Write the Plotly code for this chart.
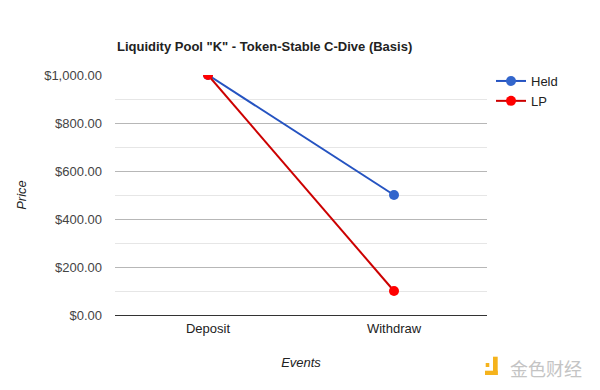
import plotly.graph_objects as go

categories = ["Deposit", "Withdraw"]
held = [1000, 500]
lp = [1000, 100]
y_ticks = [0, 200, 400, 600, 800, 1000]
y_tick_labels = ["$0.00", "$200.00", "$400.00", "$600.00", "$800.00", "$1,000.00"]

FONT = "Liberation Sans, Arial, sans-serif"

# page has an 8px body margin; layout positions are given in figure pixels
W, H = 600, 390
L, R, T, B = 107, 121, 67, 83
PW, PH = W - L - R, H - T - B


def px(x):
    return (x - L) / PW


def py(y):
    return (H - B - y) / PH


fig = go.Figure()
fig.add_trace(go.Scatter(
    x=categories, y=held, name="Held", mode="lines+markers",
    line=dict(color="#2553c1", width=2),
    marker=dict(color="#3366cc", size=10),
))
fig.add_trace(go.Scatter(
    x=categories, y=lp, name="LP", mode="lines+markers",
    line=dict(color="#cc0000", width=2),
    marker=dict(color="#ff0000", size=10),
))

fig.update_layout(
    width=W, height=H,
    margin=dict(l=L, r=R, t=T, b=B, autoexpand=False),
    paper_bgcolor="white", plot_bgcolor="white",
    font=dict(family=FONT, size=13, color="#222"),
    title=dict(text="<b>Liquidity Pool \"K\" - Token-Stable C-Dive (Basis)</b>",
               x=109 / W, xanchor="left", y=1 - 38 / H, yanchor="middle",
               font=dict(size=13, color="#222")),
    showlegend=True,
    legend=dict(x=px(483), y=py(58), xanchor="left", yanchor="top",
                font=dict(size=13, color="#222"), tracegroupgap=2,
                itemwidth=30, bgcolor="rgba(0,0,0,0)"),
    xaxis=dict(type="category", range=[-0.5, 1.5], showgrid=False,
               showline=False, zeroline=False, ticks="",
               ticklabelstandoff=4,
               tickfont=dict(size=13, color="#222"),
               title=dict(text="<i>Events</i>", standoff=22,
                          font=dict(size=13, color="#222"))),
    yaxis=dict(range=[0, 1000], tickvals=y_ticks, ticktext=y_tick_labels,
               showgrid=True, gridcolor="#b7b7b7", gridwidth=1,
               zeroline=True, zerolinecolor="#333", zerolinewidth=1,
               showline=False, ticks="", ticklen=0, ticklabelstandoff=12,
               tickfont=dict(size=13, color="#444"),
               minor=dict(dtick=100, showgrid=True, gridcolor="#e6e6e6", gridwidth=1),
               title=dict(text="<i>Price</i>", standoff=14,
                          font=dict(size=13, color="#222"))),
)

# watermark
fig.add_annotation(
    text="金色财经", xref="paper", yref="paper", x=px(500), y=py(360),
    xanchor="left", yanchor="middle", showarrow=False,
    font=dict(family="Noto Sans CJK SC", size=18, color="#c4c4c4"),
)
orange = "#f5b31c"
for x0, y0, x1, y1 in [(477.7, 355, 481.3, 359), (485, 348.7, 489.7, 367),
                       (477, 362.7, 489.7, 367)]:
    fig.add_shape(type="rect", xref="paper", yref="paper",
                  x0=px(x0), x1=px(x1), y0=py(y1), y1=py(y0),
                  fillcolor=orange, line=dict(width=0), layer="above")

fig.write_html("out.html")
